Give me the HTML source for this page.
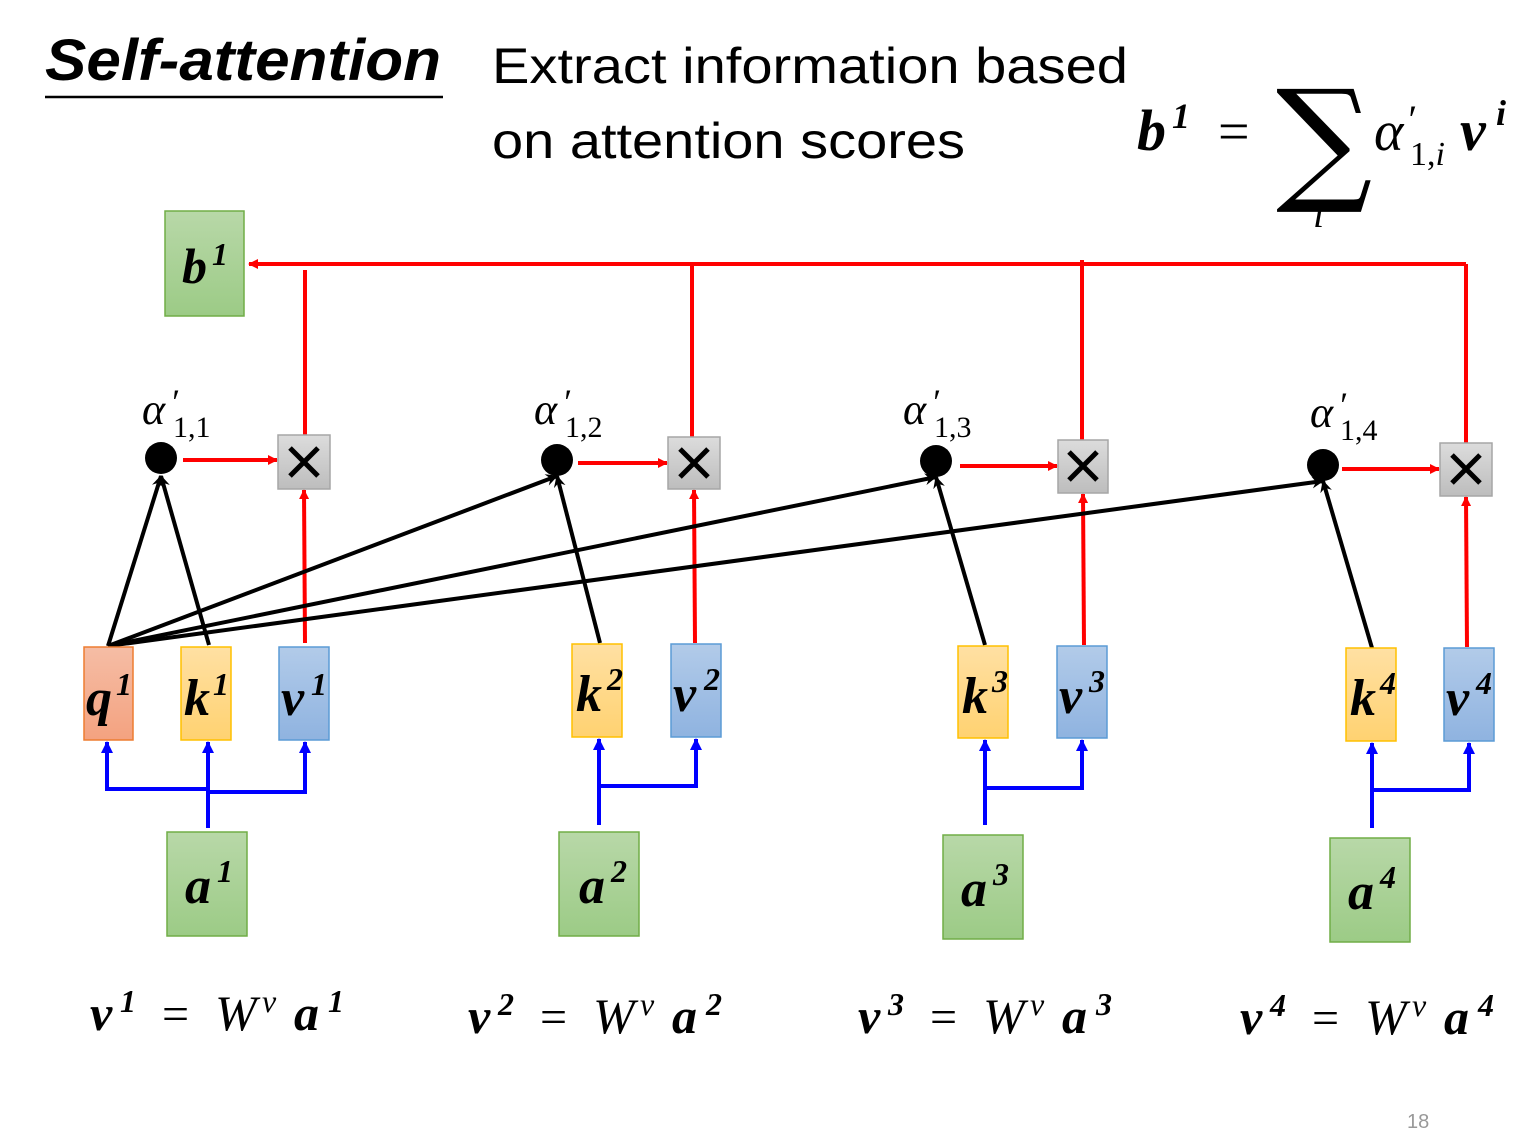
<!DOCTYPE html>
<html><head><meta charset="utf-8"><style>
html,body{margin:0;padding:0;background:#fff;}
svg{display:block;}
.m{font-family:"Liberation Serif",serif;font-style:italic;font-weight:bold;}
.mi{font-family:"Liberation Serif",serif;font-style:italic;}
.r{font-family:"Liberation Serif",serif;}
</style></head><body>
<svg width="1516" height="1147" viewBox="0 0 1516 1147" xmlns="http://www.w3.org/2000/svg">
<defs>
<marker id="ar" markerWidth="10" markerHeight="10" refX="9" refY="5" orient="auto" markerUnits="userSpaceOnUse"><path d="M0,0 L10,5 L0,10 z" fill="#f00"/></marker>
<marker id="ab" markerWidth="12" markerHeight="12" refX="11" refY="6" orient="auto" markerUnits="userSpaceOnUse"><path d="M0,0 L12,6 L0,12 z" fill="#00f"/></marker>
<marker id="ak" markerWidth="12" markerHeight="12" refX="11" refY="6" orient="auto" markerUnits="userSpaceOnUse"><path d="M0,0 L12,6 L0,12 L4,6 z" fill="#000"/></marker>
<linearGradient id="gq" x1="0" y1="0" x2="0" y2="1"><stop offset="0" stop-color="#f5bda5"/><stop offset="1" stop-color="#f4a280"/></linearGradient>
<linearGradient id="gk" x1="0" y1="0" x2="0" y2="1"><stop offset="0" stop-color="#ffe0a3"/><stop offset="1" stop-color="#ffd271"/></linearGradient>
<linearGradient id="gv" x1="0" y1="0" x2="0" y2="1"><stop offset="0" stop-color="#b2cbe9"/><stop offset="1" stop-color="#8fb3e0"/></linearGradient>
<linearGradient id="ga" x1="0" y1="0" x2="0" y2="1"><stop offset="0" stop-color="#b8d8a8"/><stop offset="1" stop-color="#9ccb86"/></linearGradient>
<linearGradient id="gx" x1="0" y1="0" x2="0" y2="1"><stop offset="0" stop-color="#dcdcdc"/><stop offset="1" stop-color="#bdbdbd"/></linearGradient>
</defs>

<!-- Title -->
<text x="45" y="80" font-family="Liberation Sans,sans-serif" font-weight="bold" font-style="italic" font-size="58" textLength="396" lengthAdjust="spacingAndGlyphs">Self-attention</text>
<line x1="45" y1="97" x2="443" y2="97" stroke="#000" stroke-width="2.5"/>
<text x="492" y="83" font-family="Liberation Sans,sans-serif" font-size="50" textLength="636" lengthAdjust="spacingAndGlyphs">Extract information based</text>
<text x="492" y="158" font-family="Liberation Sans,sans-serif" font-size="50" textLength="473" lengthAdjust="spacingAndGlyphs">on attention scores</text>

<!-- Formula -->
<text x="1137" y="150" class="m" font-size="58">b</text>
<text x="1172" y="128" class="m" font-size="36">1</text>
<text x="1218" y="150" class="r" font-size="56">=</text>
<text x="1276" y="186" font-family="DejaVu Serif,serif" font-size="135">∑</text>
<text x="1313" y="227" class="mi" font-size="40">i</text>
<text x="1374" y="150" class="mi" font-size="56">α</text>
<text x="1406" y="133" class="mi" font-size="40">′</text>
<text x="1410" y="165" class="r" font-size="34">1,<tspan font-style="italic">i</tspan></text>
<text x="1460" y="150" class="m" font-size="58">v</text>
<text x="1496" y="125" class="m" font-size="36">i</text>

<!-- b1 box -->
<rect x="165" y="211" width="79" height="105" fill="url(#ga)" stroke="#70ad47" stroke-width="1.5"/>
<text x="182" y="283" class="m" font-size="50">b</text>
<text x="212" y="265" class="m" font-size="32">1</text>

<g stroke="#f00" stroke-width="4" fill="none">
<line x1="1466" y1="264" x2="249" y2="264" marker-end="url(#ar)"/>
<line x1="305" y1="270" x2="305" y2="435"/>
<line x1="692" y1="264" x2="692" y2="437"/>
<line x1="1082" y1="260" x2="1082" y2="440"/>
<line x1="1466" y1="264" x2="1466" y2="443"/>
<line x1="183" y1="460" x2="277" y2="460" marker-end="url(#ar)"/>
<line x1="578" y1="463" x2="667" y2="463" marker-end="url(#ar)"/>
<line x1="960" y1="466" x2="1057" y2="466" marker-end="url(#ar)"/>
<line x1="1342" y1="469" x2="1439" y2="469" marker-end="url(#ar)"/>
<line x1="305" y1="643" x2="304" y2="490" marker-end="url(#ar)"/>
<line x1="695" y1="643" x2="694" y2="490" marker-end="url(#ar)"/>
<line x1="1084" y1="645" x2="1083" y2="494" marker-end="url(#ar)"/>
<line x1="1467" y1="647" x2="1466" y2="497" marker-end="url(#ar)"/>
</g>

<g stroke="#a6a6a6" stroke-width="1.5" fill="url(#gx)">
<rect x="278" y="435" width="52" height="54"/>
<rect x="668" y="437" width="52" height="52"/>
<rect x="1058" y="440" width="50" height="53"/>
<rect x="1440" y="443" width="52" height="53"/>
</g>
<g stroke="#000" stroke-width="5">
<path d="M290,448 L318,476 M318,448 L290,476"/>
<path d="M680,449 L708,477 M708,449 L680,477"/>
<path d="M1069,452 L1097,480 M1097,452 L1069,480"/>
<path d="M1452,455 L1480,483 M1480,455 L1452,483"/>
</g>

<g fill="#000">
<circle cx="161" cy="458" r="16"/>
<circle cx="557" cy="460" r="16"/>
<circle cx="936" cy="461" r="16"/>
<circle cx="1323" cy="465" r="16"/>
</g>

<g class="mi" font-size="44">
<text x="142" y="424">α</text><text x="534" y="424">α</text><text x="903" y="424">α</text><text x="1310" y="427">α</text>
</g>
<g class="mi" font-size="36">
<text x="170" y="414">′</text><text x="562" y="414">′</text><text x="931" y="414">′</text><text x="1338" y="417">′</text>
</g>
<g class="r" font-size="30">
<text x="173" y="437">1,1</text><text x="565" y="437">1,2</text><text x="934" y="437">1,3</text><text x="1340" y="440">1,4</text>
</g>

<g stroke="#000" stroke-width="4" fill="none">
<line x1="108" y1="646" x2="161" y2="476" marker-end="url(#ak)"/>
<line x1="209" y1="645" x2="161" y2="476" marker-end="url(#ak)"/>
<line x1="108" y1="646" x2="557" y2="476" marker-end="url(#ak)"/>
<line x1="108" y1="646" x2="936" y2="477" marker-end="url(#ak)"/>
<line x1="108" y1="646" x2="1323" y2="481" marker-end="url(#ak)"/>
<line x1="600" y1="643" x2="557" y2="476" marker-end="url(#ak)"/>
<line x1="985" y1="645" x2="936" y2="477" marker-end="url(#ak)"/>
<line x1="1372" y1="648" x2="1323" y2="481" marker-end="url(#ak)"/>
</g>

<rect x="84" y="647" width="49" height="93" fill="url(#gq)" stroke="#ed7d31" stroke-width="1.5"/>
<rect x="181" y="647" width="50" height="93" fill="url(#gk)" stroke="#ffc000" stroke-width="1.5"/>
<rect x="279" y="647" width="50" height="93" fill="url(#gv)" stroke="#5b9bd5" stroke-width="1.5"/>
<rect x="572" y="644" width="50" height="93" fill="url(#gk)" stroke="#ffc000" stroke-width="1.5"/>
<rect x="671" y="644" width="50" height="93" fill="url(#gv)" stroke="#5b9bd5" stroke-width="1.5"/>
<rect x="958" y="646" width="50" height="92" fill="url(#gk)" stroke="#ffc000" stroke-width="1.5"/>
<rect x="1057" y="646" width="50" height="92" fill="url(#gv)" stroke="#5b9bd5" stroke-width="1.5"/>
<rect x="1346" y="648" width="50" height="93" fill="url(#gk)" stroke="#ffc000" stroke-width="1.5"/>
<rect x="1444" y="648" width="50" height="93" fill="url(#gv)" stroke="#5b9bd5" stroke-width="1.5"/>
<g class="m" font-size="52">
<text x="86" y="715">q</text><text x="184" y="715">k</text><text x="281" y="715">v</text>
<text x="576" y="711">k</text><text x="673" y="711">v</text>
<text x="962" y="713">k</text><text x="1059" y="713">v</text>
<text x="1350" y="715">k</text><text x="1446" y="715">v</text>
</g>
<g class="m" font-size="32">
<text x="116" y="695">1</text><text x="213" y="695">1</text><text x="311" y="695">1</text>
<text x="607" y="690">2</text><text x="704" y="690">2</text>
<text x="992" y="692">3</text><text x="1089" y="692">3</text>
<text x="1380" y="694">4</text><text x="1476" y="694">4</text>
</g>

<rect x="167" y="832" width="80" height="104" fill="url(#ga)" stroke="#70ad47" stroke-width="1.5"/>
<rect x="559" y="832" width="80" height="104" fill="url(#ga)" stroke="#70ad47" stroke-width="1.5"/>
<rect x="943" y="835" width="80" height="104" fill="url(#ga)" stroke="#70ad47" stroke-width="1.5"/>
<rect x="1330" y="838" width="80" height="104" fill="url(#ga)" stroke="#70ad47" stroke-width="1.5"/>
<g class="m" font-size="52">
<text x="185" y="903">a</text><text x="579" y="903">a</text><text x="961" y="906">a</text><text x="1348" y="909">a</text>
</g>
<g class="m" font-size="32">
<text x="217" y="882">1</text><text x="611" y="882">2</text><text x="993" y="885">3</text><text x="1380" y="888">4</text>
</g>

<g stroke="#00f" stroke-width="4" fill="none">
<line x1="208" y1="828" x2="208" y2="742" marker-end="url(#ab)"/>
<polyline points="208,789 107,789 107,742" marker-end="url(#ab)"/>
<polyline points="208,792 305,792 305,742" marker-end="url(#ab)"/>
<line x1="599" y1="825" x2="599" y2="739" marker-end="url(#ab)"/>
<polyline points="599,786 696,786 696,739" marker-end="url(#ab)"/>
<line x1="985" y1="825" x2="985" y2="740" marker-end="url(#ab)"/>
<polyline points="985,788 1082,788 1082,740" marker-end="url(#ab)"/>
<line x1="1372" y1="828" x2="1372" y2="743" marker-end="url(#ab)"/>
<polyline points="1372,790 1469,790 1469,743" marker-end="url(#ab)"/>
</g>

<!-- bottom equations -->
<g transform="translate(90,1030)">
<text x="0" y="0" class="m" font-size="50">v</text><text x="30" y="-18" class="m" font-size="32">1</text>
<text x="72" y="0" class="r" font-size="48">=</text>
<text x="125" y="0" class="mi" font-size="50">W</text><text x="172" y="-18" class="mi" font-size="32">v</text>
<text x="204" y="0" class="m" font-size="50">a</text><text x="238" y="-18" class="m" font-size="32">1</text>
</g>
<g transform="translate(468,1033)">
<text x="0" y="0" class="m" font-size="50">v</text><text x="30" y="-18" class="m" font-size="32">2</text>
<text x="72" y="0" class="r" font-size="48">=</text>
<text x="125" y="0" class="mi" font-size="50">W</text><text x="172" y="-18" class="mi" font-size="32">v</text>
<text x="204" y="0" class="m" font-size="50">a</text><text x="238" y="-18" class="m" font-size="32">2</text>
</g>
<g transform="translate(858,1033)">
<text x="0" y="0" class="m" font-size="50">v</text><text x="30" y="-18" class="m" font-size="32">3</text>
<text x="72" y="0" class="r" font-size="48">=</text>
<text x="125" y="0" class="mi" font-size="50">W</text><text x="172" y="-18" class="mi" font-size="32">v</text>
<text x="204" y="0" class="m" font-size="50">a</text><text x="238" y="-18" class="m" font-size="32">3</text>
</g>
<g transform="translate(1240,1034)">
<text x="0" y="0" class="m" font-size="50">v</text><text x="30" y="-18" class="m" font-size="32">4</text>
<text x="72" y="0" class="r" font-size="48">=</text>
<text x="125" y="0" class="mi" font-size="50">W</text><text x="172" y="-18" class="mi" font-size="32">v</text>
<text x="204" y="0" class="m" font-size="50">a</text><text x="238" y="-18" class="m" font-size="32">4</text>
</g>

<text x="1407" y="1128" font-family="Liberation Sans,sans-serif" font-size="20" fill="#999">18</text>
</svg>
</body></html>
